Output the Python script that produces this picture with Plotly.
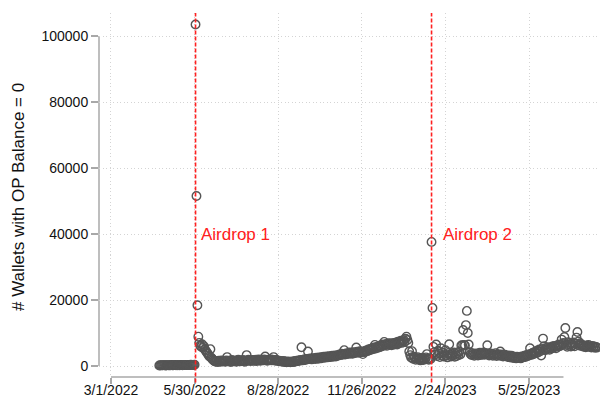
import pandas as pd
import plotly.graph_objects as go

# Daily count of wallets whose OP balance is zero, one list per month
# (each list starts on the date given in month_starts).
month_starts = ["2022-04-22", "2022-05-01", "2022-06-01", "2022-07-01", "2022-08-01",
                "2022-09-01", "2022-10-01", "2022-11-01", "2022-12-01", "2023-01-01",
                "2023-02-01", "2023-03-01", "2023-04-01", "2023-05-01", "2023-06-01",
                "2023-07-01", "2023-08-01"]

apr_2022 = [150, 210, 180, 240, 190, 260, 220, 170, 230]
may_2022 = [280, 200, 250, 190, 310, 240, 220, 270, 300, 210, 260, 230, 290, 250, 320,
            270, 240, 300, 280, 350, 260, 310, 290, 330, 300, 360, 280, 340, 310, 380, 103500]
jun_2022 = [51500, 18400, 8900, 7000, 6200, 5800, 6600, 5500, 6000, 5000, 4600, 4200, 3800,
            3300, 2900, 5100, 2500, 2100, 1800, 1600, 1400, 1300, 1500, 1200, 1600, 1400,
            1300, 1700, 1500, 1400]
jul_2022 = [1500, 1300, 1700, 2700, 1400, 1600, 1500, 1200, 1800, 1600, 1400, 1500, 1700,
            1300, 1600, 1900, 1500, 1400, 1700, 1600, 1800, 1500, 1300, 1700, 3300, 1600,
            1900, 1700, 1500, 1800, 1600]
aug_2022 = [1800, 1600, 1700, 1900, 1500, 1800, 2000, 1700, 1600, 1900, 1800, 1700, 2000,
            2900, 1800, 1600, 1900, 1700, 1800, 2000, 1700, 1900, 2700, 1800, 1600, 1800,
            1700, 1500, 1600, 1400, 1500]
sep_2022 = [1400, 1300, 1500, 1200, 1300, 1100, 1400, 1200, 1300, 1100, 1200, 1400, 1300,
            1200, 1500, 1400, 1600, 1500, 1700, 1600, 1800, 5700, 1700, 1900, 2000, 1800,
            2100, 2000, 4400, 2200]
oct_2022 = [2100, 2300, 2000, 2200, 2400, 2300, 2100, 2500, 2400, 2200, 2600, 2500, 2300,
            2700, 2600, 2800, 2500, 2700, 2900, 2600, 2800, 3000, 2700, 2900, 3100, 2800,
            3000, 3200, 2900, 3100, 3300]
nov_2022 = [3200, 3500, 3300, 3700, 3400, 3600, 4800, 3500, 3800, 3600, 3900, 3700, 4100,
            3800, 4000, 3700, 4200, 3900, 4100, 5600, 4300, 4000, 4200, 4500, 4100, 4300,
            3600, 4400, 4200, 4600]
dec_2022 = [4700, 4500, 5000, 4800, 5200, 4900, 5400, 5100, 5600, 6400, 5300, 5800, 5500,
            6000, 5700, 6200, 5900, 6500, 6100, 7300, 6300, 6700, 6100, 6600, 6900, 6400,
            6800, 6300, 6600, 7000, 6500]
jan_2023 = [6800, 7100, 6500, 7400, 6900, 7200, 7700, 7000, 7500, 7900, 7300, 8300, 8900,
            7900, 7000, 4400, 3300, 2600, 4500, 2200, 2800, 2400, 1900, 2300, 2700, 2000,
            2400, 1700, 2100, 2500, 1800]
feb_2023 = [2300, 2000, 2600, 3600, 2200, 1900, 2400, 2100, 37600, 17600, 5800, 4200, 3500,
            6500, 3000, 4600, 3800, 2700, 5400, 3300, 4100, 2900, 3600, 4800, 3100, 2600,
            3900, 6600]
mar_2023 = [3400, 2900, 3800, 3200, 4100, 2800, 3600, 3000, 3900, 3300, 4400, 3500, 6200,
            6300, 10900, 6400, 6200, 12400, 16700, 10000, 6500, 4200, 3600, 3300, 3900, 3500,
            3100, 3700, 3400, 3800, 3200]
apr_2023 = [3600, 4000, 3300, 3800, 3500, 4100, 3400, 3700, 3900, 6300, 3600, 3200, 3800,
            3400, 3700, 3100, 3500, 3300, 3900, 3000, 3400, 3600, 3200, 4400, 3100, 3500,
            2900, 3300, 3400, 3000]
may_2023 = [3000, 2700, 3200, 2800, 2600, 3100, 2500, 2900, 2400, 2700, 2300, 2800, 2500,
            2400, 2700, 2300, 2900, 2600, 2800, 3100, 2700, 3300, 3000, 3500, 3200, 5400,
            3700, 3400, 4000, 3600, 4200]
jun_2023 = [4400, 3900, 4700, 4200, 5000, 4500, 3200, 5200, 8300, 6000, 4800, 5400, 5000,
            5700, 5200, 4900, 5600, 5300, 5900, 5500, 6100, 5800, 5400, 6200, 5900, 6500,
            6000, 6300, 8000, 6700]
jul_2023 = [7000, 8800, 11500, 6400, 5800, 7200, 6100, 6600, 5900, 6800, 6300, 7100, 6000,
            6700, 8600, 10300, 7400, 6200, 6900, 6500, 6000, 6300, 5800, 6100, 5700, 6200,
            5900, 6400, 5800, 6000, 5600]
aug_2023 = [6100, 5700, 5900, 5500, 5800, 5600]

monthly_values = [apr_2022, may_2022, jun_2022, jul_2022, aug_2022, sep_2022, oct_2022,
                  nov_2022, dec_2022, jan_2023, feb_2023, mar_2023, apr_2023, may_2023,
                  jun_2023, jul_2023, aug_2023]

airdrop_dates = ["2022-05-31", "2023-02-09"]
airdrop_labels = ["Airdrop 1", "Airdrop 2"]
airdrop_label_y = 40000

x_tick_dates = ["2022-03-01", "2022-05-30", "2022-08-28", "2022-11-26", "2023-02-24", "2023-05-25"]
y_ticks = [0, 20000, 40000, 60000, 80000, 100000]

# Assemble the daily series
dates, values = [], []
for start, vals in zip(month_starts, monthly_values):
    dates.extend(pd.date_range(start, periods=len(vals), freq="D"))
    values.extend(vals)

FONT = "Liberation Sans, Arial, Helvetica, sans-serif"
AXIS_GRAY = "#a8a8a8"
GRID_GRAY = "#d4d4d4"
RED = "#ff2020"

fig = go.Figure()
fig.add_trace(go.Scatter(
    x=dates, y=values, mode="markers",
    marker=dict(symbol="circle-open", size=8.5, color="#555555",
                line=dict(width=1.4, color="#555555")),
    cliponaxis=False, showlegend=False,
))

origin = pd.Timestamp("2022-03-01")
x_range = [origin - pd.Timedelta(days=12.9), origin + pd.Timedelta(days=526.3)]

# Airdrop markers: dashed red verticals with labels
label_shifts = [3, 9]
for d, label, shift in zip(airdrop_dates, airdrop_labels, label_shifts):
    fig.add_shape(type="line", xref="x", yref="paper", x0=d, x1=d, y0=-0.015, y1=1,
                  line=dict(color=RED, width=1.6, dash="4px,2px"), layer="above")
    fig.add_annotation(x=d, y=airdrop_label_y, text=label, showarrow=False,
                       xanchor="left", yanchor="middle", xshift=shift,
                       font=dict(family=FONT, size=17, color=RED))

# Axis lines spanning the labelled range only
fig.add_shape(type="line", xref="x", yref="paper", x0=x_tick_dates[0], x1="2023-07-01",
              y0=0, y1=0, line=dict(color=AXIS_GRAY, width=1.5), layer="below")
fig.add_shape(type="line", xref="paper", yref="y", x0=0, x1=0, y0=y_ticks[0], y1=y_ticks[-1],
              line=dict(color=AXIS_GRAY, width=1.5), layer="below")

# Vertical axis title
fig.add_annotation(xref="paper", yref="paper", x=0, y=0.5, xshift=-81, yshift=-2,
                   text="# Wallets with OP Balance = 0", textangle=-90, showarrow=False,
                   xanchor="center", yanchor="middle",
                   font=dict(family=FONT, size=17, color="#111111"))

fig.update_layout(
    width=600, height=398,
    margin=dict(l=99, r=0, t=13, b=21, autoexpand=False),
    paper_bgcolor="white", plot_bgcolor="white",
    font=dict(family=FONT, size=14, color="#111111"),
    xaxis=dict(
        type="date", range=x_range, automargin=False,
        tickvals=x_tick_dates,
        ticktext=[f"{pd.Timestamp(d).month}/{pd.Timestamp(d).day}/{pd.Timestamp(d).year}"
                  for d in x_tick_dates],
        ticks="outside", ticklen=6, tickwidth=1.5, tickcolor=AXIS_GRAY,
        ticklabelstandoff=-6,
        showgrid=True, gridcolor=GRID_GRAY, griddash="1px,2.5px", gridwidth=1,
        showline=False, zeroline=False,
        tickfont=dict(family=FONT, size=14, color="#111111"),
    ),
    yaxis=dict(
        range=[-3333, 106970], automargin=False,
        tickvals=y_ticks, ticktext=[str(v) for v in y_ticks],
        ticks="outside", ticklen=7, tickwidth=1.5, tickcolor=AXIS_GRAY,
        showgrid=True, gridcolor=GRID_GRAY, griddash="1px,2.5px", gridwidth=1,
        showline=False, zeroline=False,
        tickfont=dict(family=FONT, size=14, color="#111111"),
    ),
)

fig.write_html("out.html")
